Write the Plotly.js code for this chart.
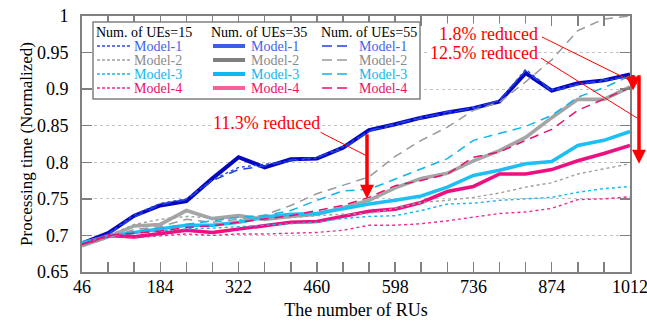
<!DOCTYPE html>
<html><head><meta charset="utf-8">
<script src="https://cdn.plot.ly/plotly-3.0.1.min.js"></script>
<style>html,body{margin:0;padding:0;background:#fff}#chart{width:647px;height:322px}</style>
</head><body><div id="chart"></div>
<script>
// ---------- data ----------
const numRUs = [46,92,138,184,230,276,322,368,414,460,506,552,598,644,690,736,782,828,874,920,966,1012];
const xTickVals = [46,184,322,460,598,736,874,1012];
const xTickText = ['46','184','322','460','598','736','874','1012'];
const ueLabels = ['Num. of UEs=15','Num. of UEs=35','Num. of UEs=55'];
const modelNames = ['Model-1','Model-2','Model-3','Model-4'];

const ue15_model1 = [0.688,0.702,0.728,0.744,0.750,0.776,0.793,0.797,0.802,0.806,0.821,0.842,0.851,0.862,0.866,0.875,0.884,0.927,0.899,0.907,0.911,0.918];
const ue15_model2 = [0.687,0.700,0.715,0.722,0.726,0.724,0.722,0.722,0.725,0.727,0.729,0.730,0.737,0.745,0.748,0.752,0.758,0.766,0.772,0.784,0.791,0.798];
const ue15_model3 = [0.690,0.700,0.703,0.706,0.709,0.710,0.712,0.714,0.716,0.718,0.723,0.726,0.727,0.734,0.743,0.744,0.748,0.750,0.752,0.759,0.764,0.767];
const ue15_model4 = [0.688,0.698,0.697,0.700,0.702,0.700,0.702,0.702,0.703,0.704,0.707,0.714,0.714,0.716,0.720,0.725,0.730,0.732,0.737,0.749,0.750,0.753];

const ue35_model1 = [0.689,0.703,0.727,0.741,0.747,0.778,0.807,0.793,0.804,0.805,0.820,0.844,0.852,0.861,0.868,0.874,0.883,0.922,0.898,0.908,0.912,0.920];
const ue35_model2 = [0.686,0.698,0.713,0.715,0.734,0.723,0.727,0.722,0.726,0.729,0.738,0.748,0.765,0.778,0.785,0.802,0.816,0.834,0.861,0.886,0.886,0.903];
const ue35_model3 = [0.690,0.699,0.704,0.709,0.714,0.714,0.718,0.725,0.729,0.730,0.737,0.743,0.748,0.754,0.766,0.782,0.789,0.798,0.801,0.823,0.830,0.842];
const ue35_model4 = [0.688,0.700,0.698,0.702,0.707,0.704,0.709,0.714,0.718,0.719,0.726,0.733,0.736,0.745,0.760,0.767,0.784,0.784,0.790,0.802,0.812,0.823];

const ue55_model1 = [0.688,0.702,0.725,0.742,0.749,0.775,0.790,0.795,0.803,0.807,0.818,0.843,0.853,0.860,0.869,0.873,0.885,0.925,0.897,0.906,0.913,0.917];
const ue55_model2 = [0.685,0.697,0.708,0.712,0.722,0.718,0.722,0.728,0.741,0.757,0.768,0.780,0.808,0.830,0.848,0.871,0.882,0.910,0.940,0.980,0.996,1.000];
const ue55_model3 = [0.690,0.700,0.705,0.710,0.715,0.720,0.725,0.727,0.734,0.748,0.761,0.763,0.777,0.791,0.805,0.830,0.839,0.849,0.864,0.889,0.902,0.918];
const ue55_model4 = [0.688,0.700,0.703,0.706,0.711,0.713,0.718,0.723,0.727,0.734,0.741,0.752,0.768,0.775,0.784,0.807,0.814,0.830,0.845,0.871,0.887,0.902];

const annotationTexts = ['11.3% reduced','1.8% reduced','12.5% reduced'];

// ---------- styles ----------
const FONT = '"Liberation Serif", "Times New Roman", serif';
const RED = '#ff0000';
const thickColors = ['#0606c0','#a5a5a5','#1cc0f4','#ee1080'];
const thinColors  = ['#2040e0','#9a9a9a','#10b4ee','#e8106e'];
const dotColors   = ['#2a48e6','#a0a0a0','#14b8f0','#ee2a90'];
const legendTextColors = ['#3f62f0','#8a8a8a','#12b6f0','#e8106a'];
const legendThick = ['#3a5ee8','#7f7f7f','#10b8f0','#f86098'];

const groups = [
  {vals:[ue15_model1,ue15_model2,ue15_model3,ue15_model4], colors:dotColors, width:1.4, dash:'3px,3px', legColors:dotColors, legWidth:1.4, legDash:'3px,2px'},
  {vals:[ue35_model1,ue35_model2,ue35_model3,ue35_model4], colors:thickColors, width:3.6, dash:'solid', legColors:legendThick, legWidth:4, legDash:'solid'},
  {vals:[ue55_model1,ue55_model2,ue55_model3,ue55_model4], colors:thinColors, width:1.5, dash:'9px,6px', legColors:thinColors, legWidth:1.6, legDash:'10px,5px'}
];

const traces = [];
[1,0,2].forEach(g => {
  const grp = groups[g];
  grp.vals.forEach((v, m) => {
    traces.push({
      x: numRUs, y: v, type:'scatter', mode:'lines',
      name: ueLabels[g] + ' ' + modelNames[m],
      line:{color:grp.colors[m], width: (g===1 && m===0) ? 4 : grp.width, dash:grp.dash},
      showlegend:false, hoverinfo:'skip'
    });
  });
});

// pixel helpers (plot area: x 82..630, y 16..272)
const L=82, T=16, W=548, H=256;
const xp = px => (px - L) / W;
const yp = py => (T + H - py) / H;

const shapes = [];
const annotations = [];

// legend box
shapes.push({type:'rect', xref:'paper', yref:'paper', x0:xp(93), x1:xp(420), y0:yp(99), y1:yp(22),
  fillcolor:'#ffffff', line:{color:'#808080', width:1.5}, layer:'above'});
const colSample = [[97,131],[213,245],[322,348]];
const colText = [133,250,358];
const colHead = [95,210,320];
const rowY = [46,60,74,88];
groups.forEach((grp, g) => {
  annotations.push({xref:'paper', yref:'paper', x:xp(colHead[g]), y:yp(32), xanchor:'left', yanchor:'middle',
    text:ueLabels[g], showarrow:false, font:{family:FONT, size:14, color:'#000'}, borderpad:0});
  modelNames.forEach((nm, m) => {
    shapes.push({type:'line', xref:'paper', yref:'paper', x0:xp(colSample[g][0]), x1:xp(colSample[g][1]),
      y0:yp(rowY[m]), y1:yp(rowY[m]), line:{color:grp.legColors[m], width:grp.legWidth, dash:grp.legDash}, layer:'above'});
    annotations.push({xref:'paper', yref:'paper', x:xp(colText[g]), y:yp(rowY[m]), xanchor:'left', yanchor:'middle',
      text:nm, showarrow:false, font:{family:FONT, size:14, color:legendTextColors[m]}, borderpad:0});
  });
});

// annotation texts
annotations.push({xref:'paper', yref:'paper', x:xp(266), y:yp(123), xanchor:'center', yanchor:'middle',
  text:annotationTexts[0], showarrow:false, font:{family:FONT, size:18, color:RED}, bgcolor:'#ffffff', borderpad:0});
annotations.push({xref:'paper', yref:'paper', x:xp(539), y:yp(34), xanchor:'right', yanchor:'middle',
  text:annotationTexts[1], showarrow:false, font:{family:FONT, size:18, color:RED}, bgcolor:'#ffffff', borderpad:0});
annotations.push({xref:'paper', yref:'paper', x:xp(539), y:yp(53), xanchor:'right', yanchor:'middle',
  text:annotationTexts[2], showarrow:false, font:{family:FONT, size:18, color:RED}, bgcolor:'#ffffff', borderpad:0});

// leader lines
[[314,129,367,156],[542,37,637,84],[541,58,637,118]].forEach(s => {
  shapes.push({type:'line', xref:'paper', yref:'paper', x0:xp(s[0]), y0:yp(s[1]), x1:xp(s[2]), y1:yp(s[3]),
    line:{color:RED, width:1}, layer:'above'});
});

// reduction arrows
[[367,0.750,-66],[633,0.898,-17],[639,0.798,-90]].forEach(a => {
  annotations.push({xref:'paper', yref:'y', x:xp(a[0]), y:a[1], ax:0, ay:a[2], text:'', showarrow:true,
    arrowhead:2, arrowsize:0.8, arrowwidth:3.5, arrowcolor:RED, standoff:0});
});

const axisCommon = {
  showline:true, linecolor:'#808080', linewidth:2, mirror:'ticks',
  ticks:'inside', ticklen:10, tickwidth:1.5, tickcolor:'#808080',
  tickfont:{family:FONT, size:18, color:'#000'}, zeroline:false
};

const layout = {
  width:647, height:322,
  margin:{l:L, r:647-L-W, t:T, b:322-T-H},
  paper_bgcolor:'#ffffff', plot_bgcolor:'#ffffff',
  showlegend:false,
  font:{family:FONT, color:'#000'},
  xaxis: Object.assign({}, axisCommon, {
    range:[46,1012], tickmode:'array', tickvals:xTickVals, ticktext:xTickText,
    showgrid:false, ticklabelstandoff:-3, ticklabeloverflow:'allow',
    minor:{tickmode:'array', tickvals:numRUs, ticks:'inside', ticklen:10, tickwidth:1.5, tickcolor:'#808080'},
    title:{text:'The number of RUs', font:{family:FONT, size:18, color:'#000'}, standoff:8}
  }),
  yaxis: Object.assign({}, axisCommon, {
    range:[0.65,1], dtick:0.05, tick0:0.65,
    showgrid:true, gridcolor:'#c4c4c4', gridwidth:1, griddash:'3px,3px',
    ticklabelstandoff:8,
    title:{text:'Processing time (Normalized)', font:{family:FONT, size:17, color:'#000'}, standoff:0}
  }),
  shapes:shapes, annotations:annotations
};

Plotly.newPlot('chart', traces, layout, {displayModeBar:false, staticPlot:true});
</script></body></html>
